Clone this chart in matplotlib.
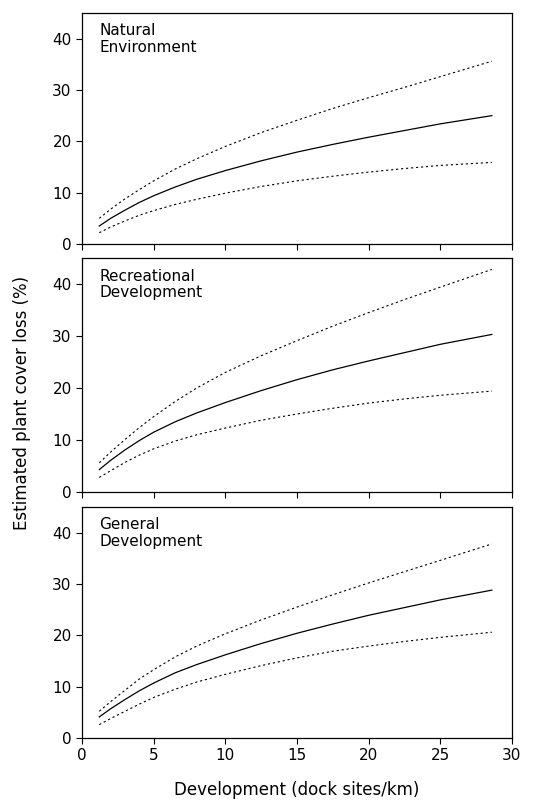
import matplotlib
matplotlib.use("Agg")
import matplotlib.pyplot as plt

# dock site density (dock sites/km)
x = [1.2, 2, 3, 4, 5, 6.5, 8, 10, 12.5, 15, 17.5, 20, 22.5, 25, 28.6]

# Natural Environment
nat_mean = [3.5, 5.0, 6.6, 8.1, 9.4, 11.1, 12.6, 14.3, 16.2, 17.9, 19.4, 20.8, 22.1, 23.4, 25.0]
nat_upper = [5.0, 6.8, 8.8, 10.6, 12.3, 14.6, 16.6, 19.0, 21.7, 24.1, 26.4, 28.5, 30.5, 32.6, 35.6]
nat_lower = [2.2, 3.3, 4.5, 5.6, 6.5, 7.7, 8.7, 9.9, 11.2, 12.3, 13.2, 14.0, 14.7, 15.3, 15.9]

# Recreational Development
rec_mean = [4.3, 6.1, 8.1, 9.9, 11.5, 13.5, 15.2, 17.2, 19.5, 21.6, 23.5, 25.2, 26.8, 28.4, 30.3]
rec_upper = [5.6, 7.7, 10.1, 12.4, 14.5, 17.4, 20.0, 23.0, 26.2, 29.1, 31.9, 34.5, 37.0, 39.4, 42.8]
rec_lower = [2.8, 4.1, 5.7, 7.1, 8.3, 9.8, 11.0, 12.3, 13.8, 15.0, 16.1, 17.1, 17.9, 18.6, 19.4]

# General Development
gen_mean = [4.1, 5.7, 7.5, 9.2, 10.7, 12.7, 14.3, 16.2, 18.4, 20.4, 22.2, 23.9, 25.4, 26.9, 28.8]
gen_upper = [5.2, 7.1, 9.3, 11.5, 13.3, 15.8, 17.9, 20.3, 23.0, 25.5, 27.9, 30.2, 32.4, 34.6, 37.8]
gen_lower = [2.6, 3.8, 5.2, 6.6, 7.9, 9.5, 10.9, 12.4, 14.1, 15.6, 16.9, 17.9, 18.8, 19.6, 20.6]

panels = [
    ("Natural\nEnvironment", nat_mean, nat_upper, nat_lower),
    ("Recreational\nDevelopment", rec_mean, rec_upper, rec_lower),
    ("General\nDevelopment", gen_mean, gen_upper, gen_lower),
]

plt.rcParams['font.family'] = ['DejaVu Sans']

fig = plt.figure(figsize=(5.4, 8.06), dpi=100)

# axes boxes in figure fractions
boxes = [
    [0.152, 0.6973, 0.796, 0.2866],
    [0.152, 0.3896, 0.796, 0.2903],
    [0.152, 0.0844, 0.796, 0.2866],
]

for i, (name, mean, upper, lower) in enumerate(panels):
    ax = fig.add_axes(boxes[i])
    ax.plot(x, upper, color='black', lw=0.8, ls=(0, (2, 2.5)))
    ax.plot(x, mean, color='black', lw=0.9)
    ax.plot(x, lower, color='black', lw=0.8, ls=(0, (2, 2.5)))
    ax.set_xlim(0, 30)
    ax.set_ylim(0, 45)
    ax.set_yticks([0, 10, 20, 30, 40])
    ax.set_xticks([0, 5, 10, 15, 20, 25, 30])
    ax.tick_params(direction='out', length=4, width=0.8, labelsize=11)
    if i < 2:
        ax.tick_params(labelbottom=False)
    for s in ax.spines.values():
        s.set_linewidth(0.9)
    ax.text(0.04, 0.955, name, transform=ax.transAxes, ha='left', va='top',
            fontsize=11, linespacing=1.15)

fig.text(0.04, 0.5, "Estimated plant cover loss (%)", rotation=90,
         ha='center', va='center', fontsize=12)
fig.text(0.55, 0.02, "Development (dock sites/km)", ha='center', va='center',
         fontsize=12)

fig.savefig("out.png", dpi=100)
